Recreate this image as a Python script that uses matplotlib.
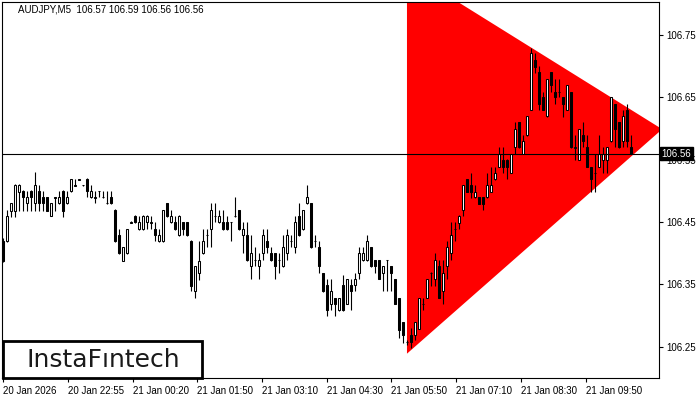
import matplotlib
matplotlib.use("Agg")
import matplotlib.pyplot as plt
from matplotlib.patches import Rectangle
import numpy as np

plt.rcParams['font.family'] = ['Liberation Sans', 'DejaVu Sans']

# AUDJPY M5 candles (oldest first)
opens = [106.420, 106.419, 106.468, 106.468, 106.499, 106.500, 106.480, 106.500, 106.480, 106.500,
         106.490, 106.490, 106.460, 106.489, 106.480, 106.500, 106.480, 106.500, 106.508, 106.518,
         106.509, 106.519, 106.490, 106.489, 106.500, 106.490, 106.480, 106.490, 106.469, 106.429,
         106.388, 106.400, 106.449, 106.460, 106.439, 106.439, 106.450, 106.449, 106.439, 106.419,
         106.419, 106.480, 106.450, 106.450, 106.429, 106.450, 106.450, 106.420, 106.339, 106.369,
         106.400, 106.429, 106.439, 106.460, 106.450, 106.450, 106.450, 106.450, 106.460, 106.469,
         106.429, 106.429, 106.379, 106.389, 106.379, 106.400, 106.419, 106.400, 106.400, 106.389,
         106.379, 106.400, 106.420, 106.410, 106.460, 106.439, 106.480, 106.480, 106.420, 106.410,
         106.369, 106.349, 106.319, 106.329, 106.309, 106.349, 106.319, 106.349, 106.349, 106.369,
         106.389, 106.389, 106.410, 106.389, 106.389, 106.369, 106.389, 106.379, 106.358, 106.329,
         106.290, 106.258, 106.269, 106.269, 106.278, 106.319, 106.329, 106.368, 106.358, 106.379,
         106.339, 106.379, 106.400, 106.439, 106.449, 106.469, 106.519, 106.509, 106.490, 106.490,
         106.490, 106.490, 106.499, 106.519, 106.539, 106.550, 106.550, 106.529, 106.570, 106.611,
         106.560, 106.589, 106.630, 106.710, 106.691, 106.650, 106.620, 106.691, 106.659, 106.658,
         106.650, 106.630, 106.659, 106.569, 106.550, 106.589, 106.570, 106.539, 106.528, 106.539,
         106.550, 106.550, 106.580, 106.640, 106.611, 106.580, 106.630, 106.570]
highs = [106.424, 106.469, 106.481, 106.511, 106.511, 106.501, 106.500, 106.501, 106.530, 106.509,
         106.500, 106.490, 106.481, 106.490, 106.500, 106.501, 106.500, 106.519, 106.519, 106.519,
         106.510, 106.521, 106.509, 106.500, 106.500, 106.500, 106.500, 106.500, 106.471, 106.439,
         106.410, 106.439, 106.451, 106.461, 106.460, 106.461, 106.461, 106.460, 106.450, 106.439,
         106.470, 106.481, 106.469, 106.460, 106.461, 106.450, 106.450, 106.421, 106.379, 106.420,
         106.439, 106.439, 106.480, 106.480, 106.469, 106.469, 106.460, 106.450, 106.490, 106.470,
         106.450, 106.450, 106.429, 106.410, 106.400, 106.439, 106.439, 106.410, 106.400, 106.400,
         106.429, 106.439, 106.429, 106.460, 106.480, 106.470, 106.509, 106.480, 106.429, 106.420,
         106.369, 106.358, 106.358, 106.329, 106.329, 106.365, 106.358, 106.358, 106.369, 106.410,
         106.410, 106.429, 106.410, 106.389, 106.389, 106.379, 106.389, 106.379, 106.358, 106.329,
         106.290, 106.261, 106.280, 106.290, 106.329, 106.329, 106.358, 106.370, 106.400, 106.389,
         106.389, 106.420, 106.450, 106.450, 106.461, 106.509, 106.519, 106.529, 106.509, 106.490,
         106.490, 106.529, 106.539, 106.539, 106.570, 106.570, 106.551, 106.559, 106.611, 106.611,
         106.589, 106.620, 106.730, 106.721, 106.700, 106.659, 106.680, 106.691, 106.680, 106.680,
         106.650, 106.670, 106.659, 106.589, 106.599, 106.611, 106.589, 106.539, 106.559, 106.589,
         106.570, 106.570, 106.650, 106.640, 106.611, 106.630, 106.640, 106.590]
lows = [106.386, 106.418, 106.459, 106.459, 106.468, 106.468, 106.468, 106.468, 106.468, 106.468,
        106.468, 106.468, 106.460, 106.468, 106.479, 106.459, 106.479, 106.498, 106.508, 106.517,
        106.508, 106.490, 106.489, 106.480, 106.490, 106.489, 106.479, 106.479, 106.418, 106.399,
        106.388, 106.399, 106.449, 106.449, 106.438, 106.438, 106.439, 106.439, 106.420, 106.418,
        106.418, 106.459, 106.449, 106.438, 106.428, 106.429, 106.428, 106.339, 106.329, 106.357,
        106.399, 106.410, 106.410, 106.450, 106.449, 106.438, 106.438, 106.420, 106.459, 106.438,
        106.400, 106.388, 106.358, 106.379, 106.358, 106.389, 106.400, 106.388, 106.358, 106.369,
        106.378, 106.389, 106.410, 106.400, 106.428, 106.438, 106.479, 106.409, 106.410, 106.369,
        106.338, 106.299, 106.309, 106.299, 106.308, 106.308, 106.318, 106.309, 106.339, 106.358,
        106.388, 106.388, 106.378, 106.369, 106.358, 106.339, 106.339, 106.339, 106.318, 106.264,
        106.256, 106.253, 106.248, 106.261, 106.278, 106.309, 106.329, 106.348, 106.348, 106.329,
        106.319, 106.358, 106.389, 106.420, 106.439, 106.460, 106.498, 106.488, 106.489, 106.479,
        106.469, 106.489, 106.498, 106.518, 106.538, 106.529, 106.519, 106.528, 106.560, 106.569,
        106.559, 106.588, 106.629, 106.689, 106.629, 106.629, 106.619, 106.659, 106.640, 106.650,
        106.619, 106.629, 106.569, 106.550, 106.549, 106.570, 106.538, 106.499, 106.499, 106.538,
        106.529, 106.529, 106.579, 106.570, 106.569, 106.570, 106.570, 106.560]
closes = [106.388, 106.460, 106.480, 106.509, 106.509, 106.490, 106.490, 106.490, 106.509, 106.480,
          106.480, 106.468, 106.480, 106.490, 106.490, 106.468, 106.490, 106.519, 106.509, 106.519,
          106.509, 106.500, 106.500, 106.490, 106.500, 106.490, 106.480, 106.480, 106.419, 106.400,
          106.410, 106.439, 106.450, 106.450, 106.450, 106.460, 106.460, 106.450, 106.429, 106.429,
          106.469, 106.460, 106.460, 106.439, 106.460, 106.439, 106.429, 106.348, 106.379, 106.388,
          106.420, 106.429, 106.469, 106.460, 106.460, 106.439, 106.439, 106.450, 106.460, 106.439,
          106.439, 106.389, 106.400, 106.389, 106.389, 106.429, 106.410, 106.389, 106.379, 106.389,
          106.410, 106.429, 106.420, 106.450, 106.429, 106.469, 106.490, 106.410, 106.420, 106.379,
          106.339, 106.309, 106.339, 106.319, 106.329, 106.309, 106.358, 106.339, 106.358, 106.400,
          106.400, 106.420, 106.379, 106.379, 106.358, 106.379, 106.389, 106.369, 106.319, 106.277,
          106.269, 106.258, 106.258, 106.290, 106.329, 106.319, 106.358, 106.369, 106.389, 106.329,
          106.369, 106.410, 106.429, 106.439, 106.460, 106.509, 106.499, 106.499, 106.499, 106.479,
          106.479, 106.509, 106.509, 106.529, 106.559, 106.539, 106.539, 106.559, 106.599, 106.570,
          106.580, 106.620, 106.721, 106.699, 106.640, 106.630, 106.680, 106.670, 106.650, 106.659,
          106.640, 106.670, 106.570, 106.570, 106.599, 106.580, 106.539, 106.519, 106.529, 106.559,
          106.559, 106.570, 106.650, 106.599, 106.570, 106.620, 106.580, 106.560]

# symmetrical triangle pattern (bar index, price)
tri_x = [100.9, 100.9, 164.7]
tri_y = [106.854, 106.239, 106.599]

price_ticks = [106.25, 106.35, 106.45, 106.55, 106.65, 106.75]
time_labels = ['20 Jan 2026', '20 Jan 22:55', '21 Jan 00:20', '21 Jan 01:50', '21 Jan 03:10',
               '21 Jan 04:30', '21 Jan 05:50', '21 Jan 07:10', '21 Jan 08:30', '21 Jan 09:50']
last_price = 106.56

o = np.array(opens); h = np.array(highs); l = np.array(lows); c = np.array(closes)
idx = np.arange(len(o))

fig = plt.figure(figsize=(7, 4), dpi=100, facecolor='white')
ax = fig.add_axes([2/700, 22/400, 657/700, 376/400])

ax.fill(tri_x, tri_y, color='#ff0000', lw=0, zorder=1)

# candles
ax.vlines(idx, l, h, color='black', lw=0.8, zorder=2)
up = c >= o
body_lo = np.minimum(o, c)
body_h = np.maximum(np.abs(c - o), 0.0004)
ax.bar(idx[up], body_h[up], bottom=body_lo[up], width=0.55, color='white',
       edgecolor='black', lw=0.75, zorder=3)
ax.bar(idx[~up], body_h[~up], bottom=body_lo[~up], width=0.55, color='black',
       edgecolor='black', lw=0.75, zorder=3)

ax.axhline(last_price, color='black', lw=0.8, zorder=4)

ax.set_xlim(-0.33, 163.9)
ax.set_ylim(106.2, 106.803)

ax.yaxis.tick_right()
ax.set_yticks(price_ticks)
ax.set_yticklabels([f'{p:.2f}' for p in price_ticks])
ax.set_xticks(np.arange(len(time_labels)) * 16.17)
ax.set_xticklabels(time_labels, ha='left')
ax.tick_params(axis='both', direction='out', length=3, width=0.8, labelsize=7, colors='black', pad=2)
ax.tick_params(axis='x', pad=3)
for s in ax.spines.values():
    s.set_color('black')
    s.set_linewidth(0.8)

# current price tag
ax.text(1.004, last_price, f'{last_price:.2f}', transform=ax.get_yaxis_transform(),
        ha='left', va='center', fontsize=7, color='white', clip_on=False, zorder=6,
        bbox=dict(boxstyle='square,pad=0.15', facecolor='black', edgecolor='black'))

fig.text(18/700, 1 - 10/400, 'AUDJPY,M5  106.57 106.59 106.56 106.56', fontsize=7,
         ha='left', va='center', color='black')

# logo box, bottom-left corner
ax.add_patch(Rectangle((1/657, 0.0), 199/657, 37/376, transform=ax.transAxes,
                       facecolor='white', edgecolor='black', lw=2, zorder=7, clip_on=False))
ax.text(101/657, 18/376, 'InstaF\u0131ntech', transform=ax.transAxes, ha='center', va='center',
        fontsize=18, family='DejaVu Sans', color='#1a1a1a', zorder=8)

fig.savefig('out.png', dpi=100, facecolor='white')
